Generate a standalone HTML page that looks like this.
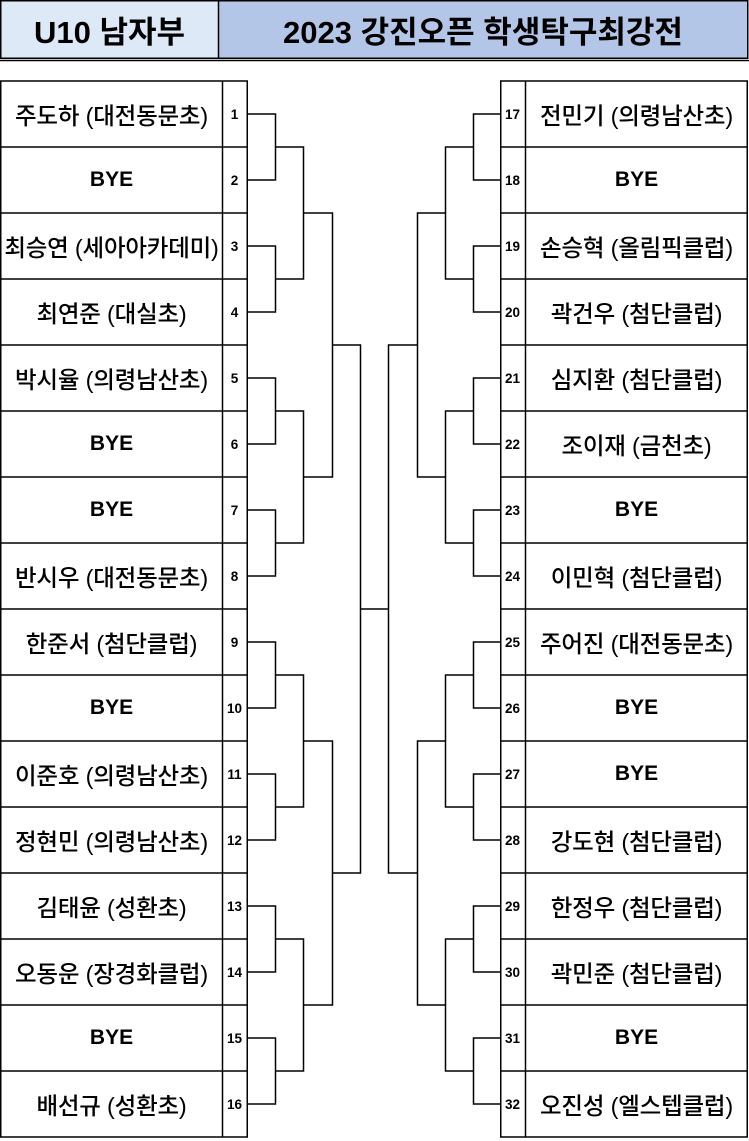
<!DOCTYPE html>
<html><head><meta charset="utf-8"><style>
html,body{margin:0;padding:0;background:#fff;width:749px;height:1141px;overflow:hidden;position:relative;font-family:"Liberation Sans","Noto Sans CJK KR",sans-serif;}
.h{position:absolute;top:1px;height:57px;display:flex;align-items:center;justify-content:center;font-weight:bold;font-size:31px;color:#000;}
.col{position:absolute;top:81px;}
.col div{height:66px;display:flex;align-items:center;justify-content:center;white-space:nowrap;}
.nm div{font-size:23.5px;font-weight:500;letter-spacing:-0.2px;}
.nm div.b{font-weight:bold;font-size:21px;letter-spacing:0;}
.nu div{font-size:13.5px;font-weight:bold;}
</style></head><body>
<div class="h" style="left:1px;width:217px;background:#dde9f6;">U10 남자부</div>
<div class="h" style="left:219px;width:528px;background:#b4c6e7;">2023 강진오픈 학생탁구최강전</div>
<div class="col nm" style="left:1px;width:221px;">
<div>주도하 (대전동문초)</div><div class="b">BYE</div><div>최승연 (세아아카데미)</div><div>최연준 (대실초)</div>
<div>박시율 (의령남산초)</div><div class="b">BYE</div><div class="b">BYE</div><div>반시우 (대전동문초)</div>
<div>한준서 (첨단클럽)</div><div class="b">BYE</div><div>이준호 (의령남산초)</div><div>정현민 (의령남산초)</div>
<div>김태윤 (성환초)</div><div>오동운 (장경화클럽)</div><div class="b">BYE</div><div>배선규 (성환초)</div>
</div>
<div class="col nu" style="left:222px;width:25px;">
<div>1</div><div>2</div><div>3</div><div>4</div><div>5</div><div>6</div><div>7</div><div>8</div>
<div>9</div><div>10</div><div>11</div><div>12</div><div>13</div><div>14</div><div>15</div><div>16</div>
</div>
<div class="col nu" style="left:500px;width:25px;">
<div>17</div><div>18</div><div>19</div><div>20</div><div>21</div><div>22</div><div>23</div><div>24</div>
<div>25</div><div>26</div><div>27</div><div>28</div><div>29</div><div>30</div><div>31</div><div>32</div>
</div>
<div class="col nm" style="left:526px;width:221px;">
<div>전민기 (의령남산초)</div><div class="b">BYE</div><div>손승혁 (올림픽클럽)</div><div>곽건우 (첨단클럽)</div>
<div>심지환 (첨단클럽)</div><div>조이재 (금천초)</div><div class="b">BYE</div><div>이민혁 (첨단클럽)</div>
<div>주어진 (대전동문초)</div><div class="b">BYE</div><div class="b">BYE</div><div>강도현 (첨단클럽)</div>
<div>한정우 (첨단클럽)</div><div>곽민준 (첨단클럽)</div><div class="b">BYE</div><div>오진성 (엘스텝클럽)</div>
</div>
<svg width="749" height="1141" style="position:absolute;left:0;top:0" fill="none" stroke="#000" stroke-width="1.5">
<rect x="0.75" y="0.75" width="747" height="57.5"/>
<line x1="218.5" y1="0" x2="218.5" y2="58"/>
<line x1="0" y1="60.5" x2="749" y2="60.5"/>
<rect x="0.75" y="81" width="246.5" height="1056"/>
<rect x="500.75" y="81" width="246.5" height="1056"/>
<line x1="222.5" y1="81" x2="222.5" y2="1137"/>
<line x1="525.5" y1="81" x2="525.5" y2="1137"/>
<path d="M0 147H247M0 213H247M0 279H247M0 345H247M0 411H247M0 477H247M0 543H247M0 609H247M0 675H247M0 741H247M0 807H247M0 873H247M0 939H247M0 1005H247M0 1071H247"/>
<path d="M500 147H748M500 213H748M500 279H748M500 345H748M500 411H748M500 477H748M500 543H748M500 609H748M500 675H748M500 741H748M500 807H748M500 873H748M500 939H748M500 1005H748M500 1071H748"/>
<path d="M247 114H275.5V180H247M247 246H275.5V312H247M247 378H275.5V444H247M247 510H275.5V576H247M247 642H275.5V708H247M247 774H275.5V840H247M247 906H275.5V972H247M247 1038H275.5V1104H247
M275.5 147H303.5V279H275.5M275.5 411H303.5V543H275.5M275.5 675H303.5V807H275.5M275.5 939H303.5V1071H275.5
M303.5 213H332.5V477H303.5M303.5 741H332.5V1005H303.5
M332.5 345H360.5V873H332.5M360.5 609H388.5"/>
<path d="M500 114H473.5V180H500M500 246H473.5V312H500M500 378H473.5V444H500M500 510H473.5V576H500M500 642H473.5V708H500M500 774H473.5V840H500M500 906H473.5V972H500M500 1038H473.5V1104H500
M473.5 147H445.5V279H473.5M473.5 411H445.5V543H473.5M473.5 675H445.5V807H473.5M473.5 939H445.5V1071H473.5
M445.5 213H417.5V477H445.5M445.5 741H417.5V1005H445.5
M417.5 345H388.5V873H417.5"/>
</svg>
</body></html>
